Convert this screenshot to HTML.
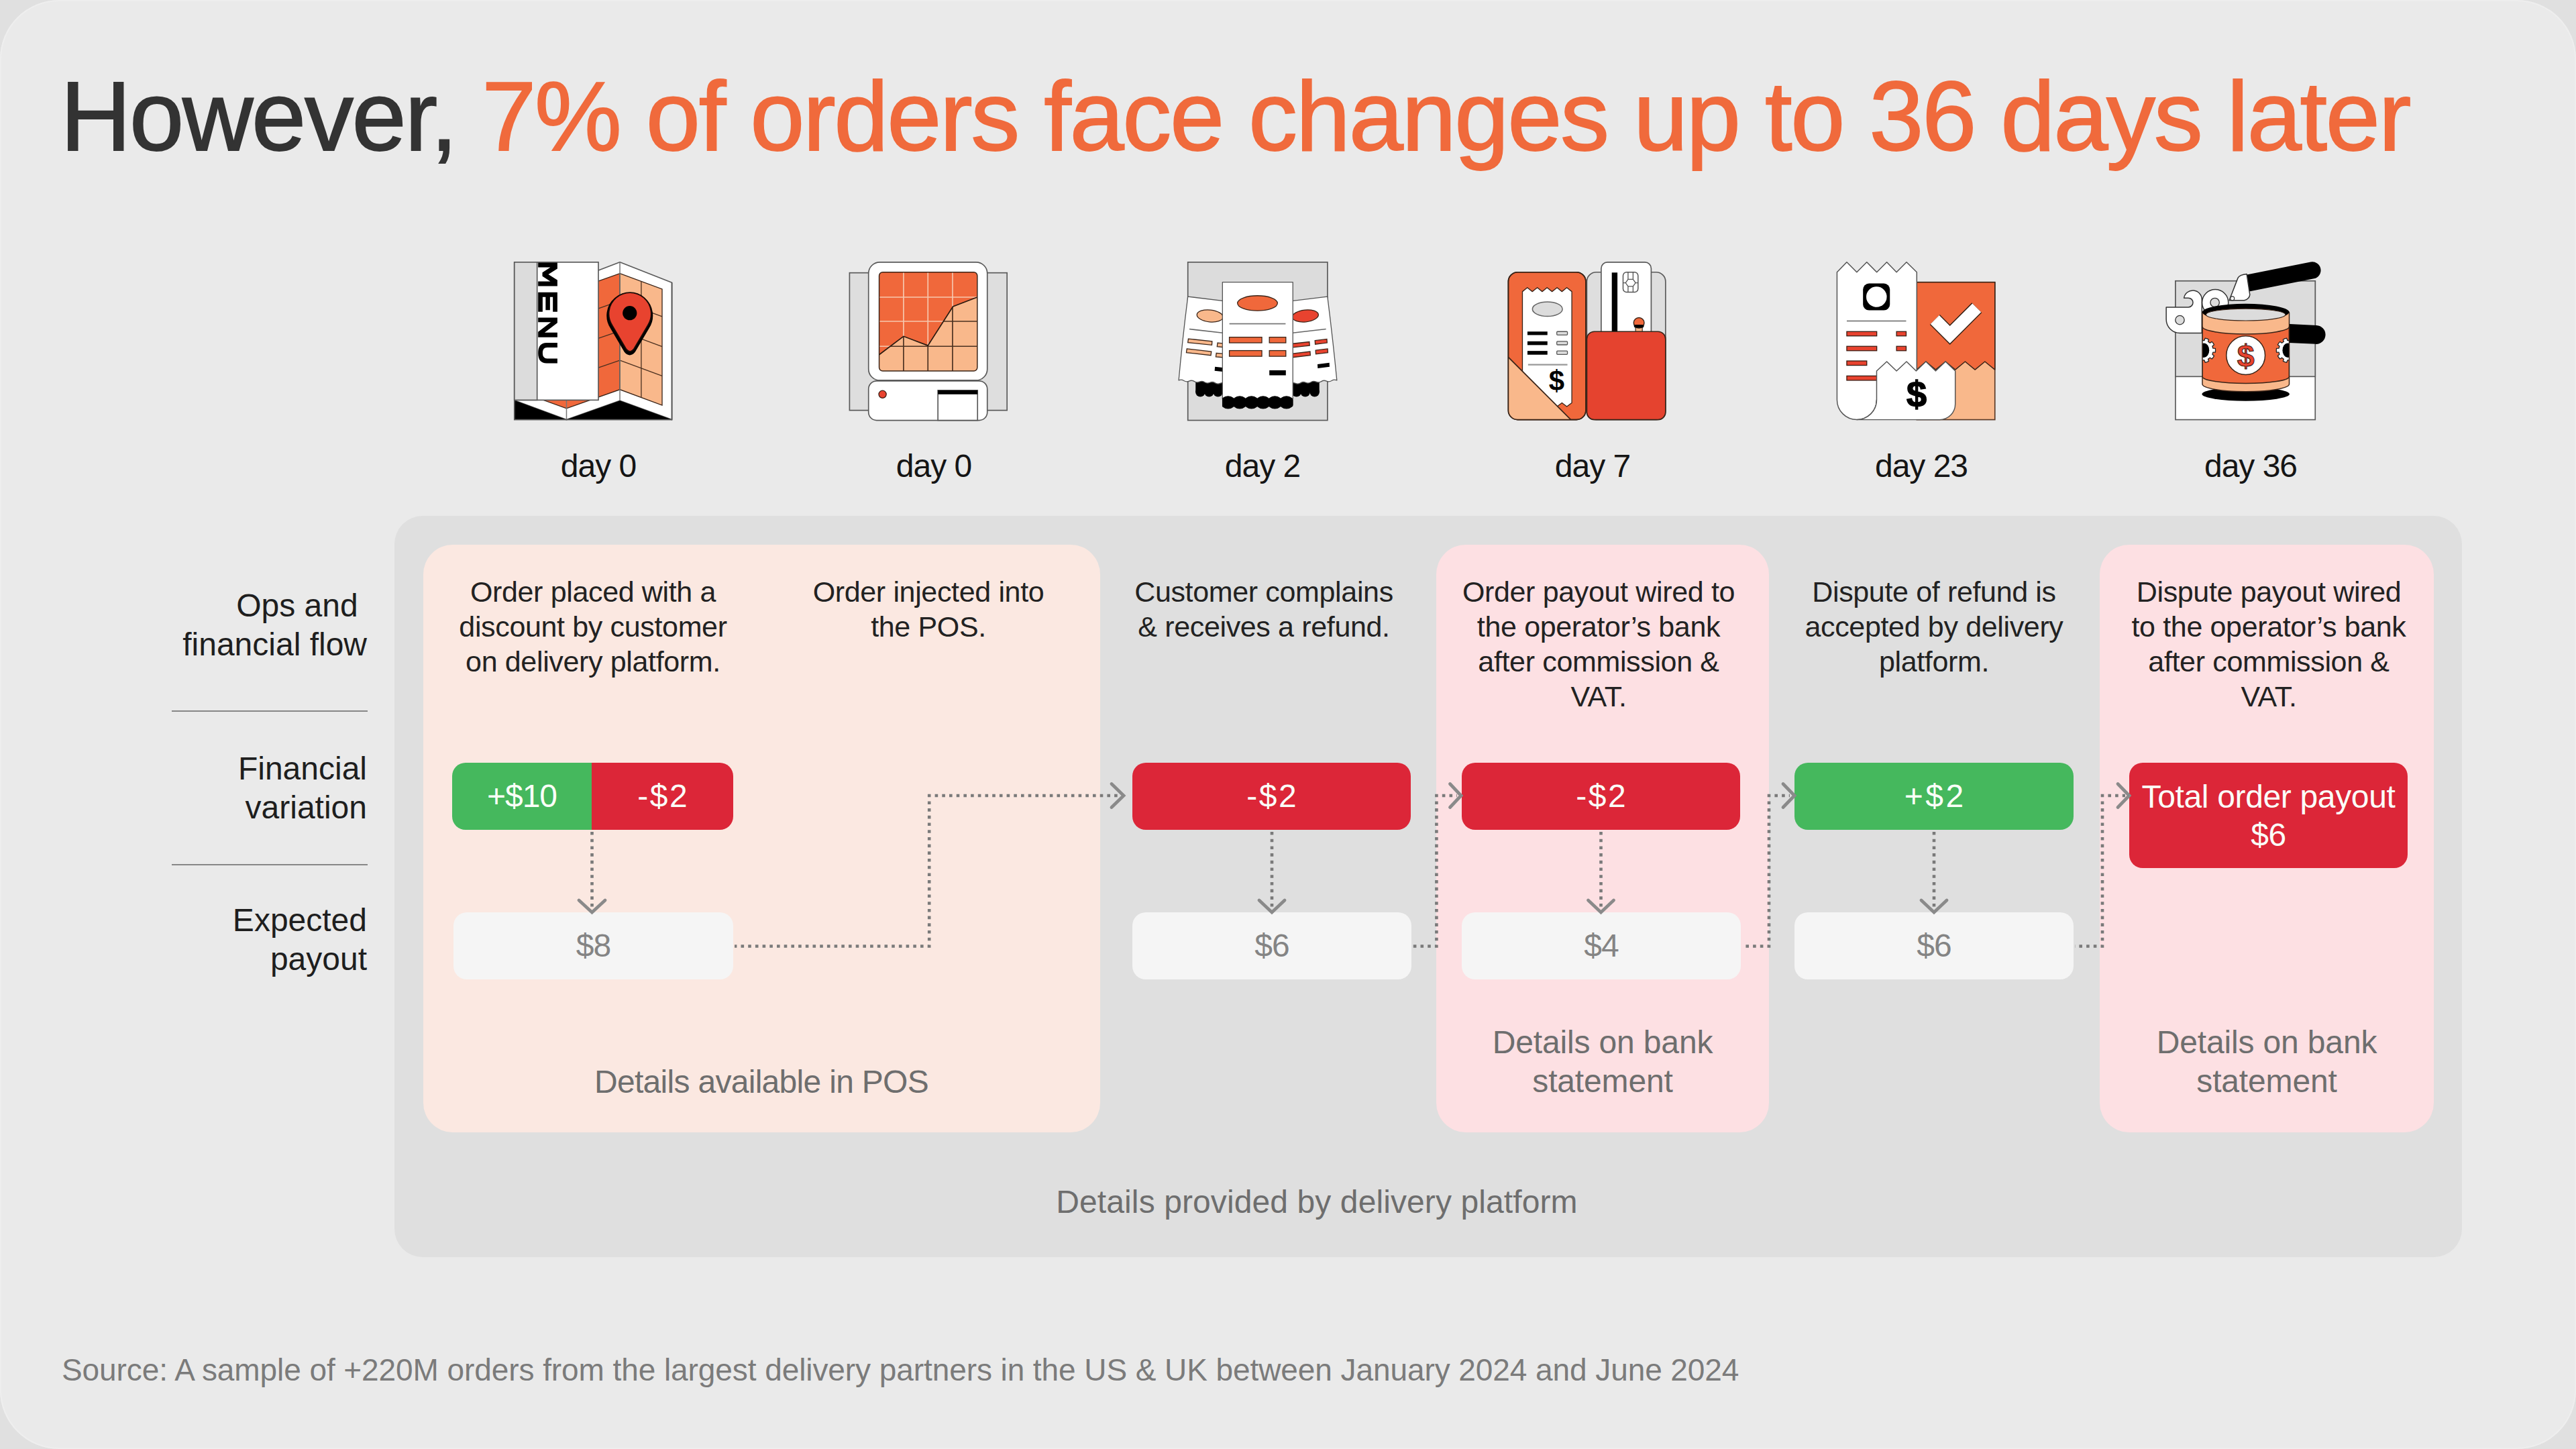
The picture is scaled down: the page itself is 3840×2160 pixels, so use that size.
<!DOCTYPE html>
<html><head><meta charset="utf-8">
<style>
html,body{margin:0;padding:0;width:3840px;height:2160px;overflow:hidden;background:#e0e0e0;}
body{font-family:"Liberation Sans",sans-serif;position:relative;}
#page{position:absolute;left:0;top:0;width:3840px;height:2160px;background:#eaeaea;border-radius:88px;box-shadow:inset 0 0 0 2px #eeeeee;}
.a{position:absolute;white-space:nowrap;}
.title{left:90px;top:100px;font-size:146px;line-height:148px;letter-spacing:-2.33px;color:#333333;-webkit-text-stroke:1.8px #333333;}
.title span{color:#f06a3c;-webkit-text-stroke:1.8px #f06a3c;}
.lbl{font-size:48px;line-height:58px;color:#1e1e1e;text-align:right;width:400px;left:147px;letter-spacing:0px;}
.sep{position:absolute;left:256px;width:292px;height:2px;background:#878787;}
.col{font-size:43px;line-height:52px;color:#222222;text-align:center;width:600px;top:856px;letter-spacing:-0.35px;}
.day{font-size:48px;line-height:58px;color:#151515;text-align:center;width:400px;top:666px;letter-spacing:-1px;}
.det{font-size:48px;line-height:58px;color:#6e6e6e;text-align:center;width:800px;letter-spacing:-1.2px;}
#panel{position:absolute;left:588px;top:769px;width:3082px;height:1105px;background:#dfdfdf;border-radius:42px;}
.box{position:absolute;top:812px;height:876px;border-radius:44px;}
.peach{background:#fbe8e1;}
.pink{background:#fde0e3;}
.pill{position:absolute;height:100px;border-radius:20px;font-size:48px;line-height:100px;text-align:center;color:#fbfff8;letter-spacing:-1px;}
.g{background:#45b85d;}
.r{background:#dc2638;}
.pay{position:absolute;height:100px;border-radius:20px;background:#f5f5f5;font-size:48px;line-height:100px;text-align:center;color:#848484;top:1360px;letter-spacing:-1px;}
.src{left:92px;top:2019px;font-size:46px;line-height:46px;color:#7b7b7b;letter-spacing:-0.08px;}
svg.ov{position:absolute;left:0;top:0;}
</style></head><body>
<div id="page"></div>

<div class="a title">However, <span>7% of orders face changes up to 36 days later</span></div>

<!-- ICONS -->
<svg class="ov" style="left:750px;top:375px" width="270" height="270" viewBox="0 0 1449 1449">
<polygon points="90,85 507,248 934,85 1350,248 1350,1345 934,1193 507,1345 90,1190" fill="#fff" stroke="#5a5a5a" stroke-width="9" stroke-linejoin="round"/>
<polygon points="150,290 507,326 934,175 934,1104 507,1255 150,1126" fill="#f0683b" stroke="#3a2418" stroke-width="7"/>
<polygon points="934,175 1272,300 1272,1229 934,1104" fill="#f9b88b" stroke="#3a2418" stroke-width="7"/>
<g stroke="#4a3020" stroke-width="7" fill="none">
<path d="M1105,238 V1167 M934,395 L1272,520 M934,635 L1272,760 M934,870 L1272,995 M507,546 L934,395 M507,781 L934,635 M507,1016 L934,870"/>
</g>
<path d="M934,85 V1193 M507,248 V1345" stroke="#777" stroke-width="8"/>
<polygon points="90,1190 507,1345 90,1345" fill="#000"/>
<polygon points="507,1345 934,1193 1350,1345" fill="#000"/>
<path d="M90,1190 V1345 H1350 V248" fill="none" stroke="#5a5a5a" stroke-width="9"/>
<rect x="90" y="85" width="672" height="1103" fill="#fff" stroke="#5a5a5a" stroke-width="9"/>
<rect x="90" y="85" width="182" height="1103" fill="#dcdcdc" stroke="#5a5a5a" stroke-width="9"/>
<g fill="#000">
<polygon transform="matrix(0,1,1,0,280,89)" points="0,0 0,154 48,154 93.5,82 139,154 187,154 187,0 150,0 150,98 108,34 79,34 37,98 37,0"/>
<polygon transform="matrix(0,1,1,0,280,326)" points="0,0 0,154 155,154 155,118 37,118 37,95 142,95 142,60 37,60 37,36 155,36 155,0"/>
<polygon transform="matrix(0,1,1,0,280,528)" points="0,0 0,154 42,154 120,52 120,154 157,154 157,0 115,0 37,102 37,0"/>
<path transform="matrix(0,1,1,0,280,730)" d="M0,154 L37,154 L37,72 Q37,36 81.5,36 Q126,36 126,72 L126,154 L163,154 L163,68 Q163,0 81.5,0 Q0,0 0,68 Z"/>
</g>
<path transform="translate(-2,14)" d="M872,590 A170,170 0 1 1 1158,590 L1045,782 Q1015,818 985,782 Z" fill="#000" stroke="#000" stroke-width="30" stroke-linejoin="round"/>
<path d="M872,590 A170,170 0 1 1 1158,590 L1045,782 Q1015,818 985,782 Z" fill="#e8432f" stroke="#1a0a05" stroke-width="10" stroke-linejoin="round"/>
<circle cx="1013" cy="492" r="57" fill="#000"/>
</svg>
<svg class="ov" style="left:1250px;top:375px" width="270" height="270" viewBox="0 0 1449 1449">
<defs><clipPath id="scr2"><rect x="325" y="165" width="785" height="790" rx="28"/></clipPath>
<clipPath id="lo2"><polygon points="325,825 520,678 715,752 915,440 1110,365 1110,955 325,955"/></clipPath></defs>
<rect x="88" y="170" width="1260" height="1100" fill="#dedede" stroke="#5a5a5a" stroke-width="9"/>
<rect x="240" y="85" width="950" height="945" rx="90" fill="#fff" stroke="#5a5a5a" stroke-width="9"/>
<g clip-path="url(#scr2)">
<rect x="325" y="165" width="785" height="790" fill="#f0683b"/>
<g stroke="#f6c7ae" stroke-width="9"><path d="M520,165 V955 M715,165 V955 M912,165 V955 M325,365 H1110 M325,558 H1110 M325,758 H1110"/></g>
<polygon points="325,825 520,678 715,752 915,440 1110,365 1110,955 325,955" fill="#f9b88b"/>
<g clip-path="url(#lo2)" stroke="#4a3020" stroke-width="9"><path d="M520,165 V955 M715,165 V955 M912,165 V955 M325,365 H1110 M325,558 H1110 M325,758 H1110"/></g>
<polyline points="325,825 520,678 715,752 915,440 1110,365" fill="none" stroke="#2a1a10" stroke-width="9"/>
</g>
<rect x="325" y="165" width="785" height="790" rx="28" fill="none" stroke="#3a2418" stroke-width="8"/>
<rect x="240" y="1035" width="950" height="315" rx="65" fill="#fff" stroke="#5a5a5a" stroke-width="9"/>
<circle cx="352" cy="1142" r="30" fill="#e8432f" stroke="#3a1a10" stroke-width="7"/>
<rect x="795" y="1110" width="317" height="240" fill="#fff" stroke="#5a5a5a" stroke-width="9"/>
<rect x="795" y="1110" width="317" height="32" fill="#000"/>
</svg>
<svg class="ov" style="left:1745px;top:375px" width="270" height="270" viewBox="0 0 1449 1449">
<rect x="138" y="85" width="1117" height="1265" fill="#dcdcdc" stroke="#5a5a5a" stroke-width="9"/>
<g fill="#000"><rect x="200" y="1040" width="280" height="85"/><circle cx="238" cy="1123" r="39"/><circle cx="308" cy="1123" r="39"/><circle cx="379" cy="1123" r="39"/><circle cx="449" cy="1123" r="39"/><rect x="915" y="1040" width="275" height="85"/><circle cx="937" cy="1123" r="39"/><circle cx="1007" cy="1123" r="39"/><circle cx="1077" cy="1123" r="39"/><circle cx="1152" cy="1123" r="39"/></g>
<path d="M138,360 L480,402 L480,1060 Q459,1070 438,1057 Q418,1044 397,1054 Q376,1064 356,1051 Q335,1038 314,1048 Q293,1058 272,1045 Q252,1032 231,1042 Q210,1052 190,1039 Q169,1026 148,1036 Q127,1046 106,1033 Q86,1020 65,1030 Q95,700 138,360 Z" fill="#fff" stroke="#555" stroke-width="7" stroke-linejoin="round"/>
<path d="M1255,360 L915,402 L915,1060 Q936,1070 956,1057 Q977,1044 998,1054 Q1019,1064 1040,1051 Q1060,1038 1081,1048 Q1102,1058 1122,1045 Q1143,1032 1164,1042 Q1185,1052 1206,1039 Q1226,1026 1247,1036 Q1268,1046 1288,1033 Q1309,1020 1330,1030 Q1298,700 1255,360 Z" fill="#fff" stroke="#555" stroke-width="7" stroke-linejoin="round"/>
<g stroke="#3a2418" stroke-width="7">
<ellipse cx="315" cy="515" rx="105" ry="48" transform="rotate(6 315 515)" fill="#f9b88b"/>
<path d="M150,620 L430,652" stroke="#666" stroke-width="9"/>
<path d="M142,698 L332,718 L330,748 L138,728 Z M376,730 L430,736 L430,766 L372,760 Z M130,778 L326,800 L322,830 L126,808 Z M366,812 L430,818 L430,848 L362,842 Z" fill="#f9b88b"/>
<path d="M355,922 L430,930 L428,962 L352,954 Z" fill="#000" stroke="none"/>
<ellipse cx="1078" cy="515" rx="105" ry="48" transform="rotate(-6 1078 515)" fill="#e8432f"/>
<path d="M965,652 L1243,620" stroke="#666" stroke-width="9"/>
<path d="M965,738 L1110,722 L1112,752 L965,768 Z M1155,712 L1250,700 L1252,730 L1157,742 Z M965,818 L1116,800 L1118,830 L965,848 Z M1160,790 L1256,778 L1258,808 L1162,820 Z" fill="#e8432f"/>
<path d="M1175,902 L1270,890 L1272,922 L1177,934 Z" fill="#000" stroke="none"/>
</g>
<rect x="415" y="245" width="563" height="935" fill="#fff"/><path d="M415,1180 V245 H978 V1180" fill="none" stroke="#555" stroke-width="7" stroke-linejoin="round"/>
<defs><clipPath id="cc3"><rect x="413" y="1100" width="567" height="200"/></clipPath></defs><g fill="#000" clip-path="url(#cc3)"><rect x="415" y="1175" width="563" height="64"/><ellipse cx="460" cy="1207" rx="60" ry="52"/><ellipse cx="553" cy="1207" rx="60" ry="52"/><ellipse cx="647" cy="1207" rx="60" ry="52"/><ellipse cx="740" cy="1207" rx="60" ry="52"/><ellipse cx="834" cy="1207" rx="60" ry="52"/><ellipse cx="927" cy="1207" rx="60" ry="52"/></g>
<ellipse cx="695" cy="413" rx="160" ry="60" fill="#f0683b" stroke="#3a2418" stroke-width="7"/>
<path d="M470,578 H920" stroke="#777" stroke-width="9"/>
<g fill="#f0683b" stroke="#3a2418" stroke-width="7">
<rect x="470" y="685" width="260" height="45"/><rect x="790" y="685" width="132" height="45"/>
<rect x="470" y="792" width="260" height="46"/><rect x="790" y="792" width="132" height="46"/>
</g>
<rect x="790" y="950" width="132" height="40" fill="#000"/>
</svg>
<svg class="ov" style="left:2235px;top:375px" width="270" height="270" viewBox="0 0 1449 1449">
<defs><clipPath id="lp4"><rect x="72" y="165" width="620" height="1180" rx="75"/></clipPath></defs>
<rect x="700" y="165" width="630" height="1180" rx="75" fill="#dedede" stroke="#5a5a5a" stroke-width="9"/>
<rect x="815" y="85" width="400" height="700" rx="50" fill="#fff" stroke="#5a5a5a" stroke-width="9"/>
<rect x="900" y="168" width="45" height="480" fill="#000"/>
<rect x="990" y="165" width="120" height="160" rx="28" fill="#fff" stroke="#555" stroke-width="8"/>
<path d="M1030,165 V222 M1070,165 V222 M1030,278 V325 M1070,325 V278 M990,250 H1010 M1090,250 H1110 M1010,250 L1030,222 L1070,222 L1090,250 L1070,278 L1030,278 Z" fill="none" stroke="#555" stroke-width="7"/>
<rect x="1090" y="600" width="54" height="45" fill="#f9b88b" stroke="#3a2418" stroke-width="6"/>
<circle cx="1117" cy="570" r="42" fill="#f0683b" stroke="#3a2418" stroke-width="8"/>
<rect x="1078" y="585" width="78" height="24" rx="12" fill="#000"/>
<rect x="700" y="640" width="630" height="705" rx="60" fill="#e5432f" stroke="#3a2418" stroke-width="9"/>
<rect x="72" y="165" width="620" height="1180" rx="75" fill="#f0683b" stroke="#3a2418" stroke-width="9"/>
<path d="M185,320 L224,288 L264,320 L304,288 L343,320 L382,288 L422,320 L462,288 L501,320 L540,288 L580,320 L580,1210 L540,1240 L501,1210 L462,1240 L422,1210 L382,1240 L343,1210 L304,1240 L264,1210 L224,1240 L185,1210 Z" fill="#fff" stroke="#3a2418" stroke-width="7" stroke-linejoin="round"/>
<ellipse cx="385" cy="460" rx="120" ry="58" fill="#dcdcdc" stroke="#666" stroke-width="8"/>
<g fill="#000"><rect x="225" y="640" width="160" height="28"/><rect x="225" y="718" width="160" height="30"/><rect x="225" y="795" width="160" height="30"/></g>
<g fill="#dcdcdc" stroke="#555" stroke-width="7"><rect x="460" y="640" width="85" height="28" rx="6"/><rect x="460" y="718" width="85" height="28" rx="6"/><rect x="460" y="795" width="85" height="28" rx="6"/></g>
<path d="M230,905 H545" stroke="#999" stroke-width="12"/>
<text x="458" y="1112" text-anchor="middle" font-family="Liberation Sans" font-weight="bold" font-size="225" fill="#000">$</text>
<g clip-path="url(#lp4)"><polygon points="40,813 607,1380 40,1380" fill="#f9b88b" stroke="#3a2418" stroke-width="9"/></g>
<rect x="72" y="165" width="620" height="1180" rx="75" fill="none" stroke="#3a2418" stroke-width="9"/>
</svg>
<svg class="ov" style="left:2725px;top:375px" width="270" height="270" viewBox="0 0 1449 1449">
<rect x="710" y="245" width="625" height="1100" fill="#f9b88b" stroke="#5a3a28" stroke-width="9"/>
<path d="M710,245 H1335 V945 L1255,880 L1176,945 L1097,880 L1018,945 L940,880 L861,945 L783,880 L710,945 Z" fill="#f0683b" stroke="#3a2418" stroke-width="8" stroke-linejoin="round"/>
<path d="M1190,450 L975,665 L855,545" fill="none" stroke="#3a2418" stroke-width="114" stroke-linejoin="miter"/>
<path d="M1190,450 L975,665 L855,545" fill="none" stroke="#fff" stroke-width="98" stroke-linejoin="miter"/>
<path d="M72,165 L150,85 L230,165 L310,85 L390,165 L470,85 L548,165 L628,85 L710,165 V1186 H389 A158.5,158.5 0 0 1 72,1186 Z" fill="#fff" stroke="#555" stroke-width="8" stroke-linejoin="round"/>
<rect x="280" y="255" width="215" height="215" rx="48" fill="#000"/>
<circle cx="388" cy="362" r="82" fill="#fff"/>
<path d="M150,555 H625" stroke="#666" stroke-width="8"/>
<g fill="#e8432f" stroke="#3a1a10" stroke-width="7">
<rect x="150" y="640" width="240" height="35"/><rect x="548" y="640" width="77" height="35"/>
<rect x="150" y="758" width="240" height="35"/><rect x="548" y="758" width="77" height="35"/>
<rect x="150" y="875" width="160" height="35"/><rect x="150" y="995" width="240" height="35"/>
</g>
<path d="M389,955 L470,880 L548,955 L628,880 L705,955 L783,880 L861,955 L940,880 L1018,955 V1220 A125,125 0 0 1 893,1345 H230 A158.5,158.5 0 0 0 389,1186 Z" fill="#fff" stroke="#555" stroke-width="8" stroke-linejoin="round"/>
<text x="708" y="1240" text-anchor="middle" font-family="Liberation Sans" font-weight="bold" font-size="290" fill="#000" stroke="#000" stroke-width="8">$</text>
</svg>
<svg class="ov" style="left:3215px;top:375px" width="270" height="270" viewBox="0 0 1449 1449">
<defs><clipPath id="can6"><path d="M365,490 A347,60 0 0 1 1060,490 V1060 A347,60 0 0 1 365,1060 Z"/></clipPath></defs>
<rect x="150" y="235" width="1118" height="1110" fill="#fff" stroke="#5a5a5a" stroke-width="9"/>
<rect x="150" y="235" width="1118" height="765" fill="#dcdcdc" stroke="#5a5a5a" stroke-width="9"/>
<path d="M740,250 L1245,150" stroke="#000" stroke-width="135" stroke-linecap="round"/>
<path d="M1060,655 L1275,665" stroke="#000" stroke-width="150" stroke-linecap="round"/>
<path d="M580,390 L650,210 Q665,185 720,180 L745,345 Q740,380 700,390 Z" fill="#fff" stroke="#333" stroke-width="8" stroke-linejoin="round"/>
<circle cx="605" cy="375" r="16" fill="#fff" stroke="#333" stroke-width="6"/>
<path d="M76,445 L253,445 A37,37 0 0 0 253,371 L218,371 A72,72 0 0 1 361,382 L361,652 L186,652 A110,110 0 0 1 76,542 Z" fill="#fff" stroke="#333" stroke-width="8" stroke-linejoin="round"/>
<circle cx="185" cy="548" r="36" fill="#dcdcdc" stroke="#333" stroke-width="7"/>
<circle cx="468" cy="408" r="105" fill="#fff" stroke="#333" stroke-width="8"/>
<circle cx="465" cy="408" r="36" fill="#dcdcdc" stroke="#333" stroke-width="7"/>
<ellipse cx="712" cy="1140" rx="350" ry="55" fill="#000"/>
<g clip-path="url(#can6)">
<rect x="360" y="420" width="710" height="700" fill="#f9b88b"/>
<path d="M365,600 A347,60 0 0 0 1060,600 V1000 A347,55 0 0 1 365,1000 Z" fill="#f0683b" stroke="#3a2418" stroke-width="8"/>
<polygon points="470,790 469,805 450,806 445,823 459,834 451,848 451,848 441,859 426,849 411,860 416,877 402,883 402,883 387,887 381,869 363,869 357,887 342,883 342,883 328,877 333,860 318,849 303,859 293,848 293,848 285,834 299,823 294,806 275,805 274,790 274,790 275,775 294,774 299,757 285,746 293,732 293,732 303,721 318,731 333,720 328,703 342,697 342,697 357,693 363,711 381,711 387,693 402,697 402,697 416,703 411,720 426,731 441,721 451,732 451,732 459,746 445,757 450,774 469,775 470,790" fill="#fff" stroke="#222" stroke-width="7" stroke-linejoin="round"/>
<ellipse cx="378" cy="790" rx="42" ry="58" fill="#000"/>
<polygon points="1153,790 1152,805 1133,806 1128,823 1142,834 1134,848 1134,848 1124,859 1109,849 1094,860 1099,877 1085,883 1085,883 1070,887 1064,869 1046,869 1040,887 1025,883 1025,883 1011,877 1016,860 1001,849 986,859 976,848 976,848 968,834 982,823 977,806 958,805 957,790 957,790 958,775 977,774 982,757 968,746 976,732 976,732 986,721 1001,731 1016,720 1011,703 1025,697 1025,697 1040,693 1046,711 1064,711 1070,693 1085,697 1085,697 1099,703 1094,720 1109,731 1124,721 1134,732 1134,732 1142,746 1128,757 1133,774 1152,775 1153,790" fill="#fff" stroke="#222" stroke-width="7" stroke-linejoin="round"/>
<ellipse cx="1048" cy="790" rx="42" ry="58" fill="#000"/>
</g>
<path d="M365,490 A347,60 0 0 1 1060,490 V1060 A347,60 0 0 1 365,1060 Z" fill="none" stroke="#3a2418" stroke-width="8"/>
<ellipse cx="712" cy="485" rx="347" ry="68" fill="#000"/>
<ellipse cx="712" cy="505" rx="318" ry="48" fill="#dcdcdc" stroke="#3a2418" stroke-width="6"/>
<circle cx="712" cy="830" r="155" fill="#fff" stroke="#3a2418" stroke-width="8"/>
<text x="712" y="925" text-anchor="middle" font-family="Liberation Sans" font-weight="bold" font-size="250" fill="#e8432f" stroke="#3a1a10" stroke-width="6">$</text>
</svg>
<!-- /ICONS -->

<div class="a day" style="left:692px">day 0</div>
<div class="a day" style="left:1192px">day 0</div>
<div class="a day" style="left:1682px">day 2</div>
<div class="a day" style="left:2174px">day 7</div>
<div class="a day" style="left:2664px">day 23</div>
<div class="a day" style="left:3155px">day 36</div>

<div id="panel"></div>
<div class="box peach" style="left:631px;width:1009px;"></div>
<div class="box pink" style="left:2141px;width:496px;"></div>
<div class="box pink" style="left:3130px;width:498px;"></div>

<div class="a lbl" style="top:874px">Ops and&nbsp;<br>financial flow</div>
<div class="sep" style="top:1059px"></div>
<div class="a lbl" style="top:1117px">Financial<br>variation</div>
<div class="sep" style="top:1288px"></div>
<div class="a lbl" style="top:1343px">Expected<br>payout</div>

<div class="a col" style="left:584px">Order placed with a<br>discount by customer<br>on delivery platform.</div>
<div class="a col" style="left:1084px">Order injected into<br>the POS.</div>
<div class="a col" style="left:1584px">Customer complains<br>&amp; receives a refund.</div>
<div class="a col" style="left:2083px">Order payout wired to<br>the operator’s bank<br>after commission &amp;<br>VAT.</div>
<div class="a col" style="left:2583px">Dispute of refund is<br>accepted by delivery<br>platform.</div>
<div class="a col" style="left:3082px">Dispute payout wired<br>to the operator’s bank<br>after commission &amp;<br>VAT.</div>

<!-- pills -->
<div class="pill g" style="left:674px;top:1137px;width:208px;border-radius:20px 0 0 20px;">+$10</div>
<div class="pill r" style="left:882px;top:1137px;width:211px;border-radius:0 20px 20px 0;letter-spacing:2.5px;text-indent:2.5px;">-$2</div>
<div class="pill r" style="left:1688px;top:1137px;width:415px;letter-spacing:2.5px;text-indent:2.5px;">-$2</div>
<div class="pill r" style="left:2179px;top:1137px;width:415px;letter-spacing:2.5px;text-indent:2.5px;">-$2</div>
<div class="pill g" style="left:2675px;top:1137px;width:416px;letter-spacing:3.5px;text-indent:3.5px;">+$2</div>
<div class="pill r" style="left:3174px;top:1137px;width:415px;height:157px;line-height:57px;box-sizing:border-box;padding-top:22px;letter-spacing:-0.35px;">Total order payout<br>$6</div>

<div class="pay" style="left:676px;width:417px;">$8</div>
<div class="pay" style="left:1688px;width:416px;">$6</div>
<div class="pay" style="left:2179px;width:416px;">$4</div>
<div class="pay" style="left:2675px;width:416px;">$6</div>

<div class="a det" style="left:735px;top:1584px;letter-spacing:-0.7px">Details available in POS</div>
<div class="a det" style="left:1989px;top:1525px;letter-spacing:-0.15px">Details on bank<br>statement</div>
<div class="a det" style="left:2979px;top:1525px;letter-spacing:-0.15px">Details on bank<br>statement</div>
<div class="a det" style="left:1563px;top:1763px;letter-spacing:0.1px">Details provided by delivery platform</div>

<svg class="ov" width="3840" height="2160" viewBox="0 0 3840 2160">
<g fill="none" stroke="#7a7a7a" stroke-width="4.6" stroke-dasharray="4.6 6.1">
<path d="M882.5,1240 V1356"/>
<path d="M1896,1240 V1356"/>
<path d="M2386.5,1240 V1356"/>
<path d="M2883,1240 V1356"/>
<path d="M1385.2,1183.7 V1410.5 H1095"/>
<path d="M1393.6,1186 H1670"/>
<path d="M2141.4,1183.7 V1410.5 H2106"/>
<path d="M2149.8,1186 H2172"/>
<path d="M2637,1183.7 V1410.5 H2597"/>
<path d="M2645.4,1186 H2668"/>
<path d="M3134,1183.7 V1410.5 H3093"/>
<path d="M3142.4,1186 H3168"/>
</g>
<g fill="none" stroke="#8a8a8a" stroke-width="4.8" stroke-linecap="round" stroke-linejoin="miter">
<path d="M863,1342 L882.5,1360 L902,1342"/>
<path d="M1877,1342 L1896,1360 L1915,1342"/>
<path d="M2367.5,1342 L2386.5,1360 L2405.5,1342"/>
<path d="M2864,1342 L2883,1360 L2902,1342"/>
<path d="M1657,1168.5 L1675,1186 L1657,1203.5"/>
<path d="M2161.5,1168.5 L2178,1186 L2161.5,1203.5"/>
<path d="M2658,1168.5 L2675,1186 L2658,1203.5"/>
<path d="M3157,1168.5 L3174,1186 L3157,1203.5"/>
</g>
</svg>

<div class="a src">Source: A sample of +220M orders from the largest delivery partners in the US &amp; UK between January 2024 and June 2024</div>
</body></html>
